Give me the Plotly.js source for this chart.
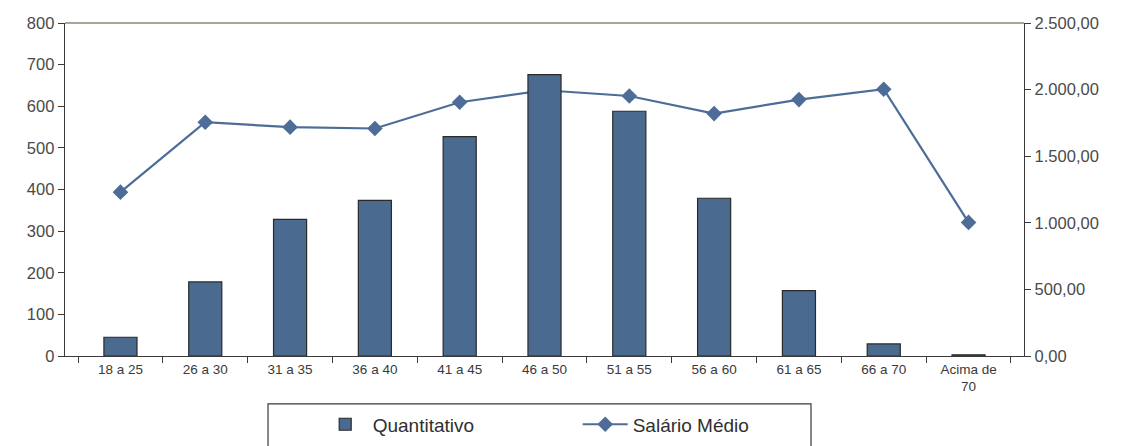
<!DOCTYPE html>
<html>
<head>
<meta charset="utf-8">
<script src="https://cdn.plot.ly/plotly-3.0.1.min.js"></script>
<style>
  html, body { margin: 0; padding: 0; background: #ffffff; }
  #chart { width: 1130px; height: 446px; }
</style>
</head>
<body>
<div id="chart"></div>
<script>
// Faixas etárias
const faixas = ['18 a 25', '26 a 30', '31 a 35', '36 a 40', '41 a 45', '46 a 50',
                '51 a 55', '56 a 60', '61 a 65', '66 a 70', 'Acima de<br>70'];
// Número de pessoas por faixa
const quantitativo = [45, 178, 328, 374, 527, 676, 588, 379, 157, 29, 3];
// Salário médio por faixa (R$)
const salarioMedio = [1230, 1755, 1718, 1708, 1905, 1995, 1952, 1820, 1925, 2003, 1003];

const fonte = 'Liberation Sans, Arial, sans-serif';
const corTexto = '#3a3a3a';
const corBarra = '#4a6a90';
const corLinha = '#4d6d98';

const dados = [
  {
    type: 'bar',
    name: 'Quantitativo',
    x: faixas,
    y: quantitativo,
    yaxis: 'y2',
    marker: { color: corBarra, line: { color: '#2a2a2a', width: 1.2 } },
    hoverinfo: 'x+y'
  },
  {
    type: 'scatter',
    mode: 'lines+markers',
    name: 'Salário Médio',
    x: faixas,
    y: salarioMedio,
    yaxis: 'y',
    line: { color: corLinha, width: 2.2 },
    marker: { symbol: 'diamond', size: 12, color: corLinha }
  }
];

const layout = {
  width: 1130,
  height: 446,
  margin: { l: 65, r: 106, t: 23, b: 90, autoexpand: false },
  paper_bgcolor: '#ffffff',
  plot_bgcolor: '#ffffff',
  separators: ',.',
  font: { family: fonte, color: corTexto },
  bargap: 0.61,
  showlegend: true,
  legend: {
    orientation: 'h',
    xref: 'paper',
    x: 0.2635,
    xanchor: 'left',
    yref: 'container',
    y: 0.091,
    yanchor: 'top',
    font: { family: fonte, size: 19, color: '#2f2f2f' },
    bgcolor: 'rgba(0,0,0,0)',
    entrywidth: 200,
    itemwidth: 45,
    traceorder: 'normal'
  },
  xaxis: {
    type: 'category',
    automargin: false,
    showgrid: false,
    showline: true,
    linecolor: '#3a3a3a',
    linewidth: 1.3,
    ticks: 'outside',
    tickson: 'boundaries',
    ticklen: 6,
    tickcolor: '#3a3a3a',
    tickfont: { family: fonte, size: 13.5, color: corTexto },
    zeroline: false,
    fixedrange: true
  },
  // Eixo do salário (direita), desenhado por baixo das barras
  yaxis: {
    side: 'right',
    automargin: false,
    range: [0, 2500],
    dtick: 500,
    tickformat: ',.2f',
    showgrid: false,
    zeroline: false,
    showline: true,
    linecolor: '#3a3a3a',
    linewidth: 1.3,
    ticks: 'outside',
    ticklen: 6,
    tickcolor: '#3a3a3a',
    tickfont: { family: fonte, size: 16.5, color: '#4a4a4a' },
    fixedrange: true
  },
  // Eixo do quantitativo (esquerda)
  yaxis2: {
    overlaying: 'y',
    side: 'left',
    automargin: false,
    range: [0, 800],
    dtick: 100,
    showgrid: false,
    zeroline: false,
    showline: true,
    linecolor: '#3a3a3a',
    linewidth: 1.3,
    ticks: 'outside',
    ticklen: 6,
    tickcolor: '#3a3a3a',
    tickfont: { family: fonte, size: 16.5, color: '#4a4a4a' },
    fixedrange: true
  },
  shapes: [
    // borda superior da área do gráfico
    { type: 'line', xref: 'paper', yref: 'paper', x0: 0, x1: 1, y0: 1, y1: 1,
      line: { color: '#8f867a', width: 1.3 } },
    // moldura da legenda
    { type: 'rect', xref: 'paper', yref: 'paper', x0: 0.2117, x1: 0.7779, y0: -0.144, y1: -0.40,
      line: { color: '#3a3a3a', width: 1.2 }, fillcolor: 'rgba(0,0,0,0)' }
  ]
};

Plotly.newPlot('chart', dados, layout, { displayModeBar: false, staticPlot: true });
</script>
</body>
</html>
